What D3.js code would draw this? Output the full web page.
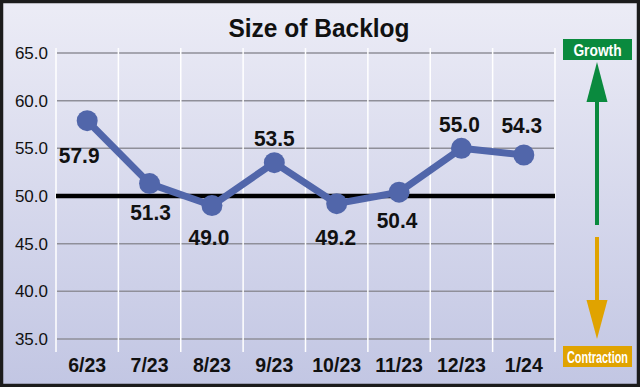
<!DOCTYPE html>
<html>
<head>
<meta charset="utf-8">
<script src="https://cdn.jsdelivr.net/npm/d3@7"></script>
<style>
  body { margin: 0; padding: 0; background: #fff; }
  svg { display: block; }
  text { font-family: "Liberation Sans", Arial, sans-serif; font-weight: bold; }
</style>
</head>
<body>
<div id="chart-container"></div>
<script>
const months = ["6/23", "7/23", "8/23", "9/23", "10/23", "11/23", "12/23", "1/24"];
const backlog = [57.9, 51.3, 49.0, 53.5, 49.2, 50.4, 55.0, 54.3];
const yTicks = [35, 40, 45, 50, 55, 60, 65];
const baseline = 50;

// where each value label sits relative to its point [dx, dy]
const labelOffsets = [[-8, 42], [1, 36], [-3, 39], [0, -17], [-1, 41], [-2, 36], [-2, -16], [-2, -22]];

const W = 640, H = 387;
const margin = { top: 53, right: 85, bottom: 48, left: 56 };
const width = W - margin.left - margin.right;
const height = H - margin.top - margin.bottom;

// squeeze text horizontally to mimic a condensed face
function condense(sel, sx) {
  sel.each(function () {
    const t = d3.select(this);
    const tx = +t.attr("x") || 0;
    const ty = +t.attr("y") || 0;
    t.attr("x", 0).attr("y", 0).attr("transform", `translate(${tx},${ty}) scale(${sx},1)`);
  });
}

const svg = d3
  .select("#chart-container")
  .append("svg")
  .attr("width", W)
  .attr("height", H);

// background gradient
const grad = svg.append("defs").append("linearGradient")
  .attr("id", "bg").attr("x1", 0).attr("y1", 0).attr("x2", 0).attr("y2", 1);
grad.append("stop").attr("offset", "0%").attr("stop-color", "#ececf6");
grad.append("stop").attr("offset", "100%").attr("stop-color", "#c2c6e3");

svg.append("rect")
  .attr("x", 1.5).attr("y", 1.5)
  .attr("width", W - 3).attr("height", H - 3)
  .attr("fill", "url(#bg)")
  .attr("stroke", "#1c1c1c")
  .attr("stroke-width", 3.5);

svg.append("text")
  .attr("x", 319).attr("y", 37)
  .attr("text-anchor", "middle")
  .attr("font-size", 25)
  .attr("fill", "#111")
  .text("Size of Backlog")
  .call(condense, 0.98);

const chart = svg.append("g").attr("transform", `translate(${margin.left},${margin.top})`);

const bandWidth = 499;
const x = d3.scaleBand().domain(months).range([0, bandWidth]);
const y = d3.scaleLinear().domain([35, 65]).range([height, 0]);

// horizontal grid
chart.append("g")
  .selectAll("line")
  .data(yTicks)
  .join("line")
  .attr("x1", 1).attr("x2", width - 1)
  .attr("y1", (d) => y(d)).attr("y2", (d) => y(d))
  .attr("stroke", "#8f8f99")
  .attr("stroke-width", 1.5);

// vertical white separators
chart.append("g")
  .selectAll("line")
  .data(months.map((m) => x(m)).concat([bandWidth]))
  .join("line")
  .attr("x1", (d) => d).attr("x2", (d) => d)
  .attr("y1", -5).attr("y2", height + 13)
  .attr("stroke", "#ffffff")
  .attr("stroke-width", 1.5);

// 50 line
chart.append("line")
  .attr("x1", 0).attr("x2", width)
  .attr("y1", y(baseline)).attr("y2", y(baseline))
  .attr("stroke", "#000")
  .attr("stroke-width", 4.5);

// y axis labels
const yAxis = d3.axisLeft(y).tickValues(yTicks).tickFormat(d3.format(".1f")).tickSize(0).tickPadding(8);
chart.append("g")
  .call(yAxis)
  .call((g) => g.select(".domain").remove())
  .selectAll("text")
  .attr("font-size", 17)
  .attr("fill", "#111")
  .style("font-family", "\"Liberation Sans\", Arial, sans-serif")
  .style("font-weight", "normal");

// x axis labels
const xAxis = d3.axisBottom(x).tickSize(0).tickPadding(0);
chart.append("g")
  .attr("transform", `translate(0,${height + 33})`)
  .call(xAxis)
  .call((g) => g.select(".domain").remove())
  .selectAll("text")
  .attr("dy", 0)
  .attr("font-size", 21)
  .attr("fill", "#111")
  .style("font-family", "\"Liberation Sans\", Arial, sans-serif")
  .style("font-weight", "bold")
  .attr("transform", "scale(0.93,1)");

// series line and points
const cx = (d, i) => x(months[i]) + x.bandwidth() / 2;
chart.append("path")
  .datum(backlog)
  .attr("fill", "none")
  .attr("stroke", "#5166aa")
  .attr("stroke-width", 7)
  .attr("stroke-linejoin", "round")
  .attr("d", d3.line().x(cx).y((d) => y(d)));

chart.append("g")
  .selectAll("circle")
  .data(backlog)
  .join("circle")
  .attr("cx", cx)
  .attr("cy", (d) => y(d))
  .attr("r", 10.5)
  .attr("fill", "#5166aa");

chart.append("g")
  .selectAll("text")
  .data(backlog)
  .join("text")
  .attr("x", (d, i) => cx(d, i) + labelOffsets[i][0])
  .attr("y", (d, i) => y(d) + labelOffsets[i][1])
  .attr("text-anchor", "middle")
  .attr("font-size", 22.5)
  .attr("fill", "#111")
  .text((d) => d3.format(".1f")(d))
  .call(condense, 0.93);

// growth / contraction arrows
const ax = 597;
svg.append("line")
  .attr("x1", ax).attr("x2", ax)
  .attr("y1", 100).attr("y2", 225)
  .attr("stroke", "#0a8a3e").attr("stroke-width", 4);
svg.append("path")
  .attr("d", `M${ax},62 L${ax - 10.5},102 L${ax + 10.5},102 Z`)
  .attr("fill", "#0a8a3e");

svg.append("line")
  .attr("x1", ax).attr("x2", ax)
  .attr("y1", 237).attr("y2", 302)
  .attr("stroke", "#e0a300").attr("stroke-width", 4);
svg.append("path")
  .attr("d", `M${ax - 10.5},300 L${ax + 10.5},300 L${ax},339 Z`)
  .attr("fill", "#e0a300");

const boxes = [
  { label: "Growth", y: 39, color: "#0a8a3e", sx: 0.81 },
  { label: "Contraction", y: 346, color: "#e0a300", sx: 0.64 },
];
svg.selectAll(".legend-box")
  .data(boxes)
  .join("g")
  .attr("class", "legend-box")
  .each(function (d) {
    const g = d3.select(this);
    g.append("rect")
      .attr("x", 563).attr("y", d.y)
      .attr("width", 69).attr("height", 21)
      .attr("fill", d.color);
    g.append("text")
      .attr("x", 597.5).attr("y", d.y + 16.5)
      .attr("text-anchor", "middle")
      .attr("font-size", 17)
      .attr("fill", "#fff")
      .text(d.label)
      .call(condense, d.sx);
  });
</script>
</body>
</html>
